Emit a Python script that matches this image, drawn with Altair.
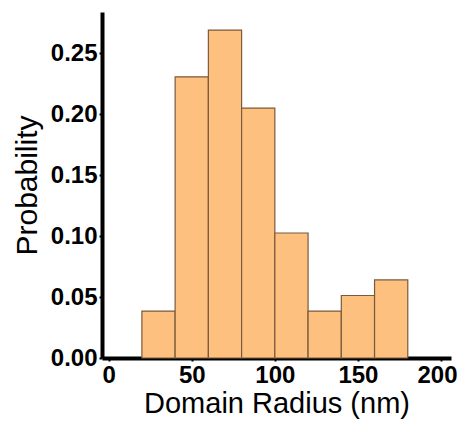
import altair as alt
import pandas as pd

bin_start = [20, 40, 60, 80, 100, 120, 140, 160]
bin_end = [40, 60, 80, 100, 120, 140, 160, 180]
probability = [0.0385, 0.2308, 0.2692, 0.2051, 0.1026, 0.0385, 0.0513, 0.0641]

x_ticks = [0, 50, 100, 150, 200]
y_ticks = [0.0, 0.05, 0.10, 0.15, 0.20, 0.25]

df = pd.DataFrame({"start": bin_start, "end": bin_end, "p": probability})

FONT = "Liberation Sans"

bars = alt.Chart(df).mark_rect(
    fill="#FDC07F", stroke="#7A5A3C", strokeWidth=1.2
).encode(
    x=alt.X("start:Q", scale=alt.Scale(domain=[-4, 206], nice=False, zero=False),
            axis=alt.Axis(values=x_ticks, title="Domain Radius (nm)", format="d",
                          grid=False, domainWidth=4, domainColor="black",
                          tickColor="black", tickWidth=2, tickSize=3,
                          labelFont=FONT, labelFontSize=24, labelFontWeight="bold",
                          labelColor="black", labelPadding=2, labelFlush=False,
                          labelOffset={"condition": {"test": "datum.value == 200", "value": -4}, "value": 0},
                          titleFont=FONT, titleFontSize=29, titleFontWeight="normal",
                          titleColor="black", titlePadding=2)),
    x2="end:Q",
    y=alt.Y("p:Q", scale=alt.Scale(domain=[0, 0.284], nice=False),
            axis=alt.Axis(values=y_ticks, title="Probability", format=".2f",
                          grid=False, domainWidth=4, domainColor="black",
                          tickColor="black", tickWidth=2, tickSize=3,
                          labelFont=FONT, labelFontSize=24, labelFontWeight="bold",
                          labelColor="black", labelPadding=2, labelFlush=False,
                          titleFont=FONT, titleFontSize=30, titleFontWeight="normal",
                          titleColor="black", titlePadding=8)),
    y2=alt.datum(0),
)

chart = bars.properties(
    width=349, height=346,
    autosize=alt.AutoSizeParams(type="none"),
    padding={"left": 94, "top": 4, "right": 6, "bottom": 62},
).configure_view(stroke=None)

chart.save("out.html", embed_options={"renderer": "svg", "actions": False})
